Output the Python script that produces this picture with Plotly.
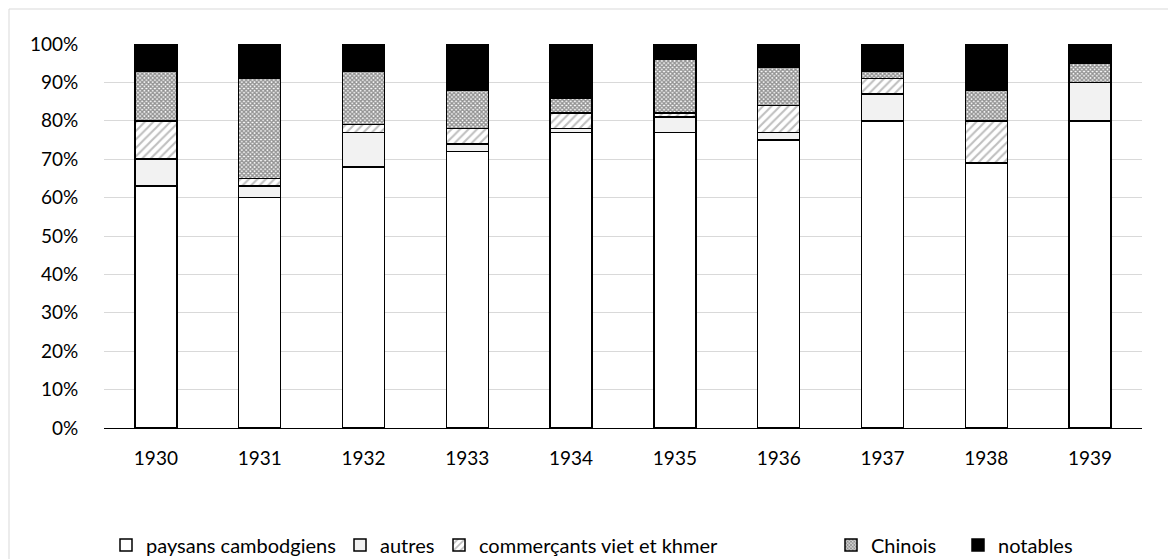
import plotly.graph_objects as go

years = ["1930", "1931", "1932", "1933", "1934", "1935", "1936", "1937", "1938", "1939"]
paysans = [63, 60, 68, 72, 77, 77, 75, 80, 69, 80]
autres = [7, 3, 9, 2, 1, 4, 2, 7, 0, 10]
commercants = [10, 2, 2, 4, 4, 1, 7, 4, 11, 0]
chinois = [13, 26, 14, 10, 4, 14, 10, 2, 8, 5]
notables = [7, 9, 7, 12, 14, 4, 6, 7, 12, 5]

tick_vals = [0, 10, 20, 30, 40, 50, 60, 70, 80, 90, 100]
tick_text = [f"{v}%" for v in tick_vals]

FONT = "Lato, 'Open Sans', sans-serif"
LINE = dict(color="#000000", width=1.5)
W, H = 1168, 559

fig = go.Figure()
fig.add_trace(go.Bar(x=years, y=paysans, name="paysans cambodgiens", legend="legend",
                     marker=dict(color="#ffffff", line=LINE)))
fig.add_trace(go.Bar(x=years, y=autres, name="autres", legend="legend2",
                     marker=dict(color="#f2f2f2", line=LINE)))
fig.add_trace(go.Bar(x=years, y=commercants, name="commerçants viet et khmer", legend="legend3",
                     marker=dict(color="#ffffff", line=LINE,
                                 pattern=dict(shape="/", fgcolor="#808080", bgcolor="#ffffff",
                                              size=6, solidity=0.35, fillmode="overlay"))))
fig.add_trace(go.Bar(x=years, y=chinois, name="Chinois", legend="legend4",
                     marker=dict(color="#ffffff", line=LINE,
                                 pattern=dict(shape="x", fgcolor="#262626", bgcolor="#ffffff",
                                              size=3, solidity=0.7, fillmode="overlay"))))
fig.add_trace(go.Bar(x=years, y=notables, name="notables", legend="legend5",
                     marker=dict(color="#000000", line=LINE)))

# legend text start positions (px)
text_starts = [146, 380, 479, 871, 998]
leg_common = dict(orientation="h", xref="container", yref="container",
                  xanchor="left", y=(H - 545) / H, yanchor="middle",
                  font=dict(family=FONT, size=20, color="#000000"),
                  itemwidth=30, itemclick=False, itemdoubleclick=False,
                  bgcolor="rgba(0,0,0,0)")
legends = {}
for i, ts in enumerate(text_starts):
    key = "legend" if i == 0 else f"legend{i + 1}"
    legends[key] = dict(leg_common, x=(ts - 40) / W)

fig.update_layout(
    barmode="stack",
    bargap=0.595,
    width=W, height=H,
    margin=dict(l=104, r=26, t=44, b=131, autoexpand=False),
    paper_bgcolor="#ffffff",
    plot_bgcolor="#ffffff",
    font=dict(family=FONT, size=19, color="#000000"),
    showlegend=True,
    shapes=[dict(type="rect", xref="paper", yref="paper",
                 x0=(9 - 104) / 1038, x1=1.2, y0=-0.6, y1=(428 - 9) / 384,
                 line=dict(color="#d9d9d9", width=1), fillcolor="rgba(0,0,0,0)", layer="below")],
    **legends,
)
fig.update_yaxes(range=[0, 100], tickvals=tick_vals, ticktext=tick_text,
                 showgrid=True, gridcolor="#d9d9d9", gridwidth=1,
                 zeroline=False, showline=False,
                 ticks="outside", ticklen=21, tickcolor="rgba(0,0,0,0)",
                 tickfont=dict(family=FONT, size=19, color="#000000"))
fig.update_xaxes(showline=True, linecolor="#000000", linewidth=1.2,
                 ticks="outside", ticklen=13, tickcolor="rgba(0,0,0,0)",
                 tickfont=dict(family=FONT, size=19, color="#000000"))

fig.write_html("out.html", config={"displayModeBar": False},
               post_script="document.body.style.margin='0';document.body.style.overflow='hidden';")
